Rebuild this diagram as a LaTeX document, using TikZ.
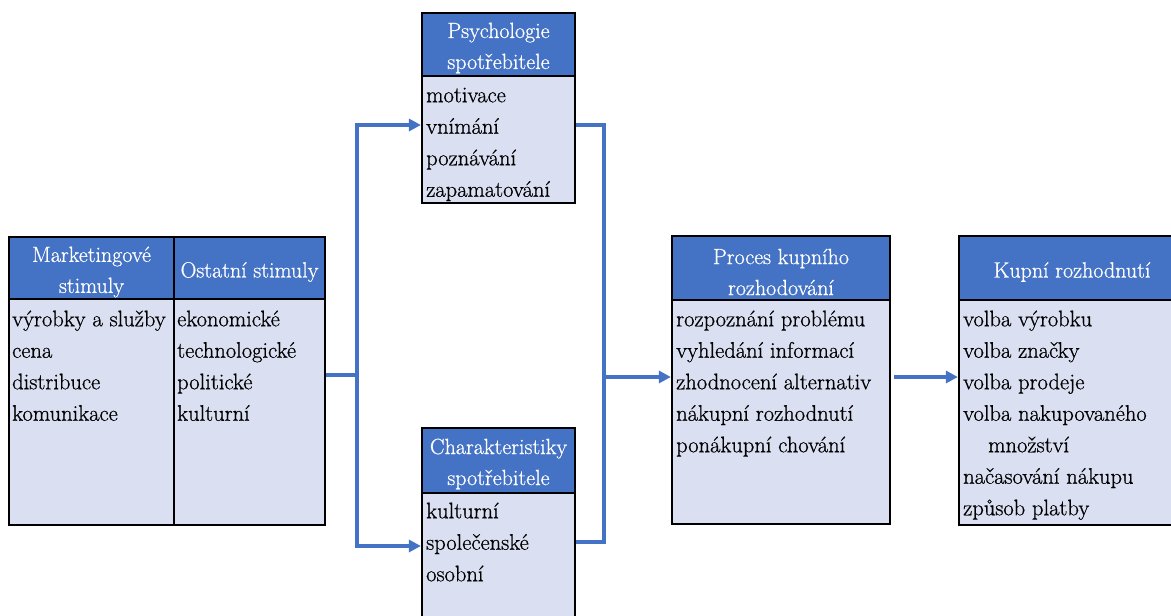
\documentclass[tikz,border=0pt]{standalone}
\usepackage{fontspec}
\newfontfamily\txtrm{Latin Modern Roman}[BoldFont=Latin Modern Roman,BoldFeatures={FakeBold=0.7}]
\usetikzlibrary{arrows.meta}
\definecolor{hdrblue}{HTML}{4472C4}
\definecolor{bodyblue}{HTML}{DAE0F2}
\definecolor{lineblue}{HTML}{4472C4}
\newcommand\bodyfnt{\txtrm\bfseries\fontsize{22.5}{31.5}\selectfont}
\newcommand\hdrfnt{\txtrm\bfseries\fontsize{22}{31}\selectfont}
\begin{document}
\begin{tikzpicture}[x=1pt,y=-1pt,
  hdr/.style={draw=black,line width=2.2pt,fill=hdrblue,inner sep=0pt,rectangle},
  bdy/.style={draw=black,line width=2.2pt,fill=bodyblue,inner sep=0pt,rectangle},
  hdrtxt/.style={text=white,font=\hdrfnt,align=center,inner sep=0pt},
  bdytxt/.style={font=\bodyfnt,align=left,inner sep=0pt,anchor=north west},
  conn/.style={draw=lineblue,line width=3.2pt},
  arr/.style={conn,-{Triangle[length=12pt,width=12pt]}}]
\useasboundingbox (0,0) rectangle (1171,616);
\clip (0,0) rectangle (1171,616);

% stimuli
\node[bdy,minimum width=165pt,minimum height=226pt] (mktb) at (91.5,412) {};
\node[bdy,minimum width=151pt,minimum height=226pt] (ostb) at (249.5,412) {};
\node[hdr,minimum width=165pt,minimum height=62pt] (mkth) at (91.5,268) {};
\node[hdr,minimum width=151pt,minimum height=62pt] (osth) at (249.5,268) {};
\node[hdrtxt] (mktht) at ([yshift=-4pt]mkth.center) {Marketingové\\stimuly};
\node[hdrtxt] (ostht) at ([yshift=-4pt]osth.center) {Ostatní stimuly};
\node[bdytxt] (mktbt) at (12,304) {\strut výrobky a služby\\cena\\distribuce\\komunikace};
\node[bdytxt] (ostbt) at (177,304) {\strut ekonomické\\technologické\\politické\\kulturní};

% consumer psychology
\node[bdy,minimum width=153pt,minimum height=127pt] (psyb) at (498.5,139.5) {};
\node[hdr,minimum width=153pt,minimum height=63pt] (psyh) at (498.5,44.5) {};
\node[hdrtxt] (psyht) at ([yshift=-3.5pt]psyh.center) {Psychologie\\spotřebitele};
\node[bdytxt] (psybt) at (426,80) {\strut motivace\\vnímání\\poznávání\\zapamatování};

% consumer characteristics
\node[bdy,minimum width=153pt,minimum height=137pt] (chrb) at (498.5,561.5) {};
\node[hdr,minimum width=153pt,minimum height=65pt] (chrh) at (498.5,460.5) {};
\node[hdrtxt] (chrht) at ([yshift=-3.5pt]chrh.center) {Charakteristiky\\spotřebitele};
\node[bdytxt] (chrbt) at (426,496) {\strut kulturní\\společenské\\osobní};

% buying decision process
\node[bdy,minimum width=218pt,minimum height=224pt] (prob) at (781,412) {};
\node[hdr,minimum width=218pt,minimum height=64pt] (proh) at (781,268) {};
\node[hdrtxt] (proht) at ([yshift=-4pt]proh.center) {Proces kupního\\rozhodování};
\node[bdytxt] (probt) at (676,304) {\strut rozpoznání problému\\vyhledání informací\\zhodnocení alternativ\\nákupní rozhodnutí\\ponákupní chování};

% buying decision
\node[bdy,minimum width=226pt,minimum height=225pt] (kupb) at (1072,412.5) {};
\node[hdr,minimum width=226pt,minimum height=64pt] (kuph) at (1072,268) {};
\node[hdrtxt] (kupht) at ([yshift=-4pt]kuph.center) {Kupní rozhodnutí};
\node[bdytxt] (kupbt) at (963,304) {\strut volba výrobku\\volba značky\\volba prodeje\\volba nakupovaného\\\hspace*{25pt}množství\\načasování nákupu\\způsob platby};

% connectors
\coordinate (lj) at (357,375);
\coordinate (ltop) at (357,125);
\coordinate (lbot) at (357,546);
\coordinate (rtop) at (604,125);
\coordinate (rbot) at (604,542);
\coordinate (rj) at (604,377);
\draw[conn] (ostb.east |- lj) -- (lj);
\draw[arr] (lj) -- (ltop) -- (psyb.west |- ltop);
\draw[arr] (lj) -- (lbot) -- (chrb.west |- lbot);
\draw[conn] (psyb.east |- rtop) -- (rtop) -- (rbot) -- (chrb.east |- rbot);
\draw[arr] (rj) -- (prob.west |- rj);
\draw[arr] ([xshift=3pt]prob.east |- rj) -- (kupb.west |- rj);
\end{tikzpicture}
\end{document}
